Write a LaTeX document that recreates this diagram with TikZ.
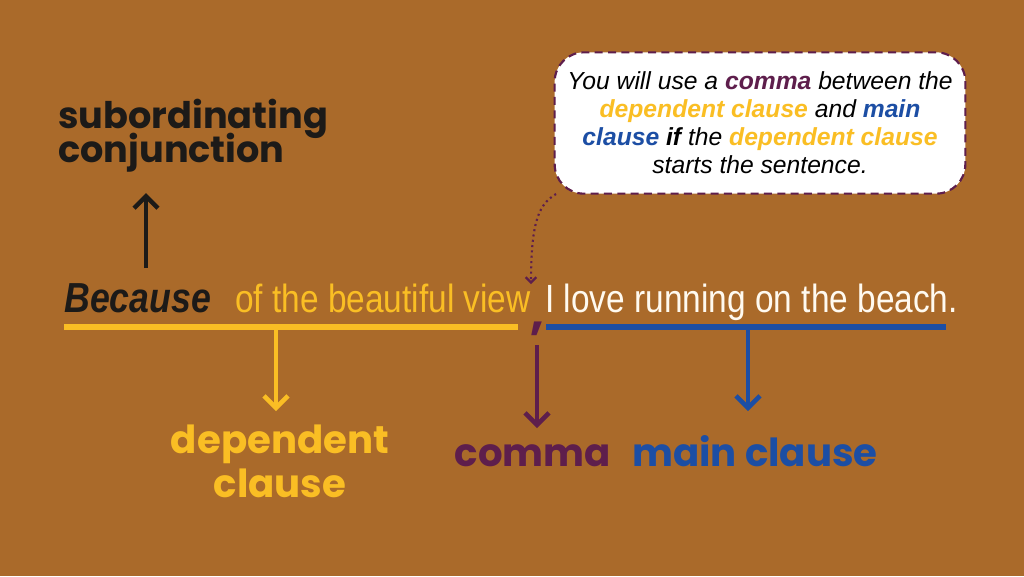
\documentclass[tikz,border=0pt]{standalone}
\usepackage{fontspec}
\usetikzlibrary{arrows.meta,positioning}
\setmainfont{Liberation Sans}
\newfontfamily\narrowfont{Liberation Sans}[FakeStretch=0.85]
\newfontfamily\heavyfont{Poppins}
\newcommand\tightlines{\lineskiplimit=-40pt\relax}
\definecolor{bg}{RGB}{170,106,42}
\definecolor{gold}{RGB}{250,190,36}
\definecolor{navy}{RGB}{28,78,164}
\definecolor{plum}{RGB}{94,30,76}
\definecolor{ink}{RGB}{28,26,24}
\definecolor{cream}{RGB}{255,250,240}

\begin{document}
\begin{tikzpicture}[x=0.75pt,y=-0.75pt,
  >={Straight Barb[length=9pt,width=18pt]},
  every node/.style={inner sep=0pt},
  sentence/.style={font=\narrowfont\fontsize{29.5}{36}\selectfont,anchor=base west},
  tag/.style={font=\heavyfont\bfseries\fontsize{29}{33}\selectfont,align=center},
  pointer/.style={->,line width=3.4pt},
  underline/.style={line width=4.5pt},
  note/.style={draw=plum,dash pattern=on 6pt off 4pt,line width=1.6pt,fill=white,
    rounded corners=22pt,minimum width=308pt,minimum height=106pt,align=center,
    font=\fontsize{18.5}{21}\selectfont\itshape}]

\fill[bg] (0,0) rectangle (1024,576);

% the sentence
\node[sentence,font=\narrowfont\fontsize{31.5}{36}\selectfont\bfseries\itshape,text=ink] (because) at (64,312) {Because};
\node[sentence,text=gold] (view) at (235,312) {of the beautiful view};
\node[anchor=base,text=plum,font=\heavyfont\bfseries\fontsize{36}{36}\selectfont] (comma) at (537,329) {,};
\node[sentence,text=cream] (beach) at (545,312) {I love running on the beach.};

\draw[underline,gold] (64,327) -- (518,327);
\draw[underline,navy] (546,327) -- (946,327);

% labels
\node[tag,anchor=north west,align=left,text=ink,
  font=\heavyfont\bfseries\fontsize{27.5}{25.5}\selectfont\tightlines] (subconj) at (58,99) {subordinating\\conjunction};
\node[tag,anchor=north,text=gold] (dep) at (280,425) {dependent\\clause};
\node[tag,anchor=base,text=plum] (commatag) at (533,466) {comma};
\node[tag,anchor=base,text=navy] (main) at (755,466) {main clause};

\coordinate (subTail) at (146,268);
\coordinate (subTip) at (146,193);
\coordinate (depTail) at (276,330);
\coordinate (depTip) at (276,411);
\coordinate (commaTail) at (537,345);
\coordinate (commaTip) at (537,428);
\coordinate (mainTail) at (748,330);
\coordinate (mainTip) at (748,411);

\draw[pointer,ink] (subTail) -- (subTip);
\draw[pointer,gold] (depTail) -- (depTip);
\draw[pointer,plum] (commaTail) -- (commaTip);
\draw[pointer,navy] (mainTail) -- (mainTip);

% the note
\node[note] (rule) at (760,123) {You will use a \textcolor{plum}{\bfseries comma} between the\\
  \textcolor{gold}{\bfseries dependent clause} and \textcolor{navy}{\bfseries main}\\
  \textcolor{navy}{\bfseries clause} \textbf{if} the \textcolor{gold}{\bfseries dependent clause}\\
  starts the sentence.};

\coordinate (noteTail) at (556,194);
\draw[plum,line width=1.6pt,dash pattern=on 1.5pt off 2.5pt,
  -{Straight Barb[length=4pt,width=8pt]}]
  (noteTail) .. controls (540,204) and (531,218) .. (531,284);

\end{tikzpicture}
\end{document}
